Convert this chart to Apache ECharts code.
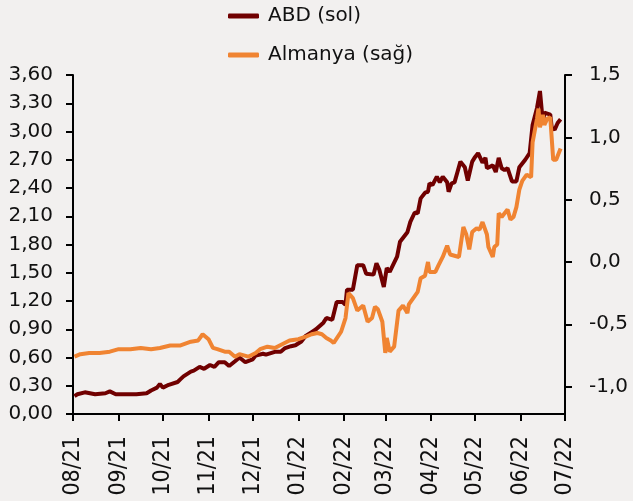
<!DOCTYPE html>
<html>
<head>
<meta charset="utf-8">
<script src="https://cdn.jsdelivr.net/npm/echarts@6/dist/echarts.min.js"></script>
<style>
html,body{margin:0;padding:0;background:#F2F0EF;}
#c{width:633px;height:501px;}
</style>
</head>
<body>
<div id="c"></div>
<script>
// ABD (US 2Y yield, left axis)
const abdDates = ['2021-08-02','2021-08-04','2021-08-09','2021-08-16','2021-08-23','2021-08-26','2021-08-30','2021-09-06','2021-09-13','2021-09-20','2021-09-23','2021-09-27','2021-09-29','2021-10-01','2021-10-05','2021-10-11','2021-10-13','2021-10-15','2021-10-20','2021-10-22','2021-10-26','2021-10-29','2021-11-02','2021-11-05','2021-11-08','2021-11-12','2021-11-15','2021-11-19','2021-11-22','2021-11-26','2021-12-01','2021-12-03','2021-12-08','2021-12-10','2021-12-16','2021-12-20','2021-12-23','2021-12-27','2021-12-30','2022-01-03','2022-01-06','2022-01-10','2022-01-13','2022-01-18','2022-01-20','2022-01-24','2022-01-25','2022-01-27','2022-01-31','2022-02-02','2022-02-03','2022-02-07','2022-02-10','2022-02-14','2022-02-16','2022-02-21','2022-02-23','2022-02-25','2022-02-28','2022-03-02','2022-03-04','2022-03-09','2022-03-11','2022-03-16','2022-03-18','2022-03-21','2022-03-23','2022-03-25','2022-03-28','2022-03-30','2022-03-31','2022-04-02','2022-04-05','2022-04-07','2022-04-09','2022-04-12','2022-04-13','2022-04-15','2022-04-17','2022-04-19','2022-04-21','2022-04-24','2022-04-26','2022-04-29','2022-05-01','2022-05-03','2022-05-06','2022-05-08','2022-05-09','2022-05-13','2022-05-15','2022-05-17','2022-05-19','2022-05-21','2022-05-23','2022-05-26','2022-05-29','2022-05-31','2022-06-04','2022-06-07','2022-06-09','2022-06-12','2022-06-14','2022-06-16','2022-06-17','2022-06-21','2022-06-22','2022-06-24','2022-06-26','2022-06-28'];
const abdValues = [0.19,0.21,0.23,0.21,0.22,0.24,0.21,0.21,0.21,0.22,0.25,0.28,0.32,0.28,0.31,0.34,0.37,0.40,0.45,0.46,0.50,0.48,0.52,0.50,0.55,0.55,0.51,0.56,0.60,0.55,0.58,0.62,0.64,0.63,0.66,0.66,0.70,0.72,0.73,0.77,0.83,0.87,0.90,0.97,1.02,1.00,0.98,1.19,1.19,1.16,1.32,1.32,1.58,1.58,1.49,1.48,1.60,1.53,1.35,1.55,1.51,1.67,1.83,1.93,2.04,2.14,2.13,2.29,2.35,2.36,2.45,2.43,2.52,2.46,2.52,2.46,2.36,2.45,2.46,2.57,2.68,2.62,2.48,2.68,2.73,2.77,2.67,2.72,2.61,2.64,2.57,2.72,2.61,2.59,2.61,2.47,2.47,2.62,2.70,2.77,3.07,3.25,3.43,3.09,3.20,3.18,3.04,3.02,3.09,3.13];
// Almanya (German 2Y yield, right axis)
const almDates = ['2021-08-02','2021-08-06','2021-08-12','2021-08-19','2021-08-26','2021-09-01','2021-09-09','2021-09-16','2021-09-23','2021-09-29','2021-10-06','2021-10-13','2021-10-20','2021-10-25','2021-10-28','2021-11-01','2021-11-04','2021-11-07','2021-11-12','2021-11-15','2021-11-19','2021-11-22','2021-11-28','2021-12-03','2021-12-06','2021-12-11','2021-12-16','2021-12-21','2021-12-26','2022-01-01','2022-01-06','2022-01-10','2022-01-14','2022-01-17','2022-01-20','2022-01-23','2022-01-25','2022-01-30','2022-02-02','2022-02-04','2022-02-07','2022-02-10','2022-02-14','2022-02-17','2022-02-20','2022-02-22','2022-02-24','2022-02-27','2022-03-01','2022-03-02','2022-03-04','2022-03-07','2022-03-10','2022-03-13','2022-03-16','2022-03-17','2022-03-20','2022-03-23','2022-03-25','2022-03-28','2022-03-30','2022-03-31','2022-04-04','2022-04-06','2022-04-09','2022-04-12','2022-04-14','2022-04-20','2022-04-23','2022-04-25','2022-04-27','2022-04-29','2022-05-02','2022-05-04','2022-05-06','2022-05-09','2022-05-10','2022-05-13','2022-05-14','2022-05-16','2022-05-17','2022-05-19','2022-05-23','2022-05-25','2022-05-27','2022-05-29','2022-05-31','2022-06-02','2022-06-05','2022-06-08','2022-06-09','2022-06-12','2022-06-13','2022-06-14','2022-06-16','2022-06-17','2022-06-19','2022-06-21','2022-06-23','2022-06-25','2022-06-28'];
const almValues = [-0.76,-0.74,-0.73,-0.73,-0.72,-0.70,-0.70,-0.69,-0.70,-0.69,-0.67,-0.67,-0.64,-0.63,-0.58,-0.62,-0.69,-0.70,-0.72,-0.72,-0.76,-0.74,-0.76,-0.73,-0.70,-0.68,-0.69,-0.66,-0.63,-0.62,-0.60,-0.58,-0.57,-0.58,-0.61,-0.63,-0.65,-0.56,-0.45,-0.25,-0.29,-0.39,-0.35,-0.48,-0.45,-0.36,-0.38,-0.48,-0.73,-0.61,-0.72,-0.68,-0.39,-0.35,-0.41,-0.34,-0.29,-0.24,-0.13,-0.11,0.00,-0.08,-0.08,-0.03,0.04,0.13,0.06,0.04,0.28,0.22,0.10,0.24,0.27,0.26,0.32,0.22,0.12,0.04,0.12,0.14,0.39,0.36,0.42,0.34,0.36,0.44,0.58,0.65,0.70,0.68,0.96,1.15,1.23,1.08,1.18,1.10,1.15,1.16,0.82,0.82,0.91];
// Axis ticks
const monthTicks = ['2021-08-01','2021-09-01','2021-10-01','2021-11-01','2021-12-01','2022-01-01','2022-02-01','2022-03-01','2022-04-01','2022-05-01','2022-06-01','2022-07-01'];
const rightTicks = [-1.0,-0.5,0.0,0.5,1.0,1.5];

function ts(s){const p=s.split('-');return new Date(+p[0],+p[1]-1,+p[2]).getTime();}
const monthTs = monthTicks.map(ts);
const abdData = abdDates.map((d,i)=>[ts(d),abdValues[i]]);
const almData = almDates.map((d,i)=>[ts(d),almValues[i]]);

const chart = echarts.init(document.getElementById('c'));
const txt = '#111';
chart.setOption({
  backgroundColor:'#F2F0EF',
  animation:false,
  grid:{left:73,right:68,top:75,bottom:87,containLabel:false},
  legend:{
    orient:'vertical', left:223, top:1, itemWidth:31, itemHeight:5, itemGap:19,
    icon:'roundRect',
    textStyle:{fontFamily:'DejaVu Sans',fontSize:20,color:txt,padding:[0,0,0,4]},
    data:['ABD (sol)','Almanya (sağ)']
  },
  xAxis:{
    type:'value', min:monthTs[0], max:monthTs[monthTs.length-1], scale:true,
    axisLine:{lineStyle:{color:'#000',width:2}},
    axisTick:{show:true,length:7,lineStyle:{color:'#000',width:2},customValues:monthTs},
    splitLine:{show:false},
    axisLabel:{
      customValues:monthTs, rotate:90, margin:22,
      fontFamily:'DejaVu Sans Condensed', fontSize:23, color:txt,
      formatter:function(v){const d=new Date(v);const m=d.getMonth()+1;const y=d.getFullYear()%100;return (m<10?'0':'')+m+'/'+y;}
    }
  },
  yAxis:[{
    type:'value', min:0, max:3.6, interval:0.3, position:'left',
    axisLine:{show:true,lineStyle:{color:'#000',width:2}},
    axisTick:{show:true,length:7,lineStyle:{color:'#000',width:2}},
    splitLine:{show:false},
    axisLabel:{margin:20,fontFamily:'DejaVu Sans',fontSize:20,color:txt,formatter:v=>v.toFixed(2).replace('.',',')}
  },{
    type:'value', min:-1.22, max:1.5, position:'right',
    axisLine:{show:true,lineStyle:{color:'#000',width:2}},
    axisTick:{show:true,length:7,lineStyle:{color:'#000',width:2},customValues:rightTicks},
    splitLine:{show:false},
    axisLabel:{customValues:rightTicks,margin:24,fontFamily:'DejaVu Sans',fontSize:20,color:txt,formatter:v=>v.toFixed(1).replace('.',',')}
  }],
  series:[{
    name:'ABD (sol)', type:'line', yAxisIndex:0, data:abdData, showSymbol:false, symbol:'none',
    lineStyle:{color:'#700000',width:4}, itemStyle:{color:'#700000'}, z:3
  },{
    name:'Almanya (sağ)', type:'line', yAxisIndex:1, data:almData, showSymbol:false, symbol:'none',
    lineStyle:{color:'#F08432',width:4}, itemStyle:{color:'#F08432'}, z:4
  }]
});
</script>
</body>
</html>
